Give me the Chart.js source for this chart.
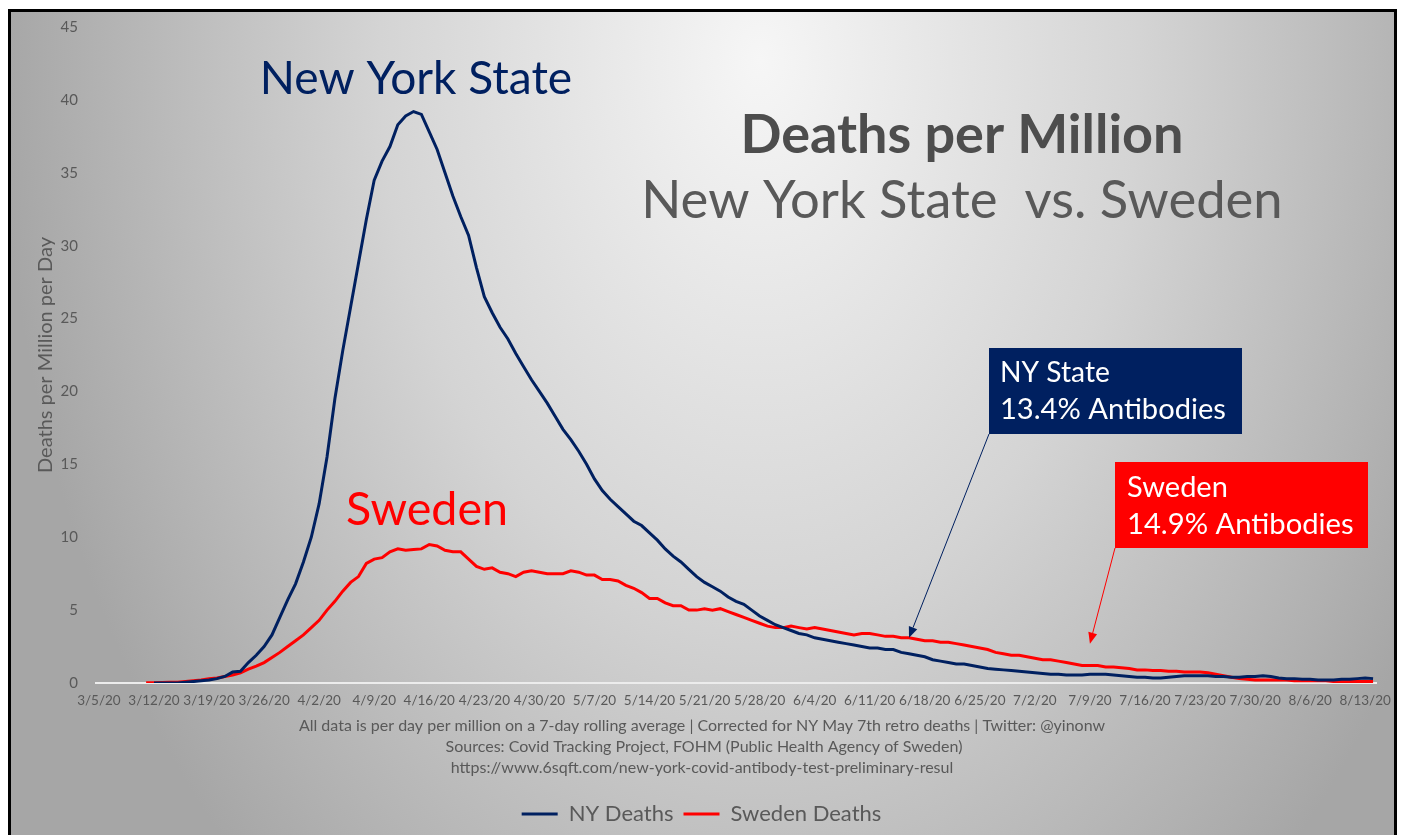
<!DOCTYPE html>
<html>
<head>
<meta charset="utf-8">
<script src="https://cdn.jsdelivr.net/npm/chart.js@4"></script>
<style>
  html, body { margin: 0; padding: 0; background: #fff; }
  #chart { display: block; }
</style>
</head>
<body>
<canvas id="chart" width="1403" height="835"></canvas>
<script>
// one label per day, 3/5/20 .. 8/14/20
const days = [
  '3/5/20','3/6/20','3/7/20','3/8/20','3/9/20','3/10/20','3/11/20','3/12/20','3/13/20','3/14/20','3/15/20','3/16/20','3/17/20','3/18/20',
  '3/19/20','3/20/20','3/21/20','3/22/20','3/23/20','3/24/20','3/25/20','3/26/20','3/27/20','3/28/20','3/29/20','3/30/20','3/31/20',
  '4/1/20','4/2/20','4/3/20','4/4/20','4/5/20','4/6/20','4/7/20','4/8/20','4/9/20','4/10/20','4/11/20','4/12/20','4/13/20','4/14/20','4/15/20',
  '4/16/20','4/17/20','4/18/20','4/19/20','4/20/20','4/21/20','4/22/20','4/23/20','4/24/20','4/25/20','4/26/20','4/27/20','4/28/20','4/29/20','4/30/20',
  '5/1/20','5/2/20','5/3/20','5/4/20','5/5/20','5/6/20','5/7/20','5/8/20','5/9/20','5/10/20','5/11/20','5/12/20','5/13/20','5/14/20','5/15/20','5/16/20',
  '5/17/20','5/18/20','5/19/20','5/20/20','5/21/20','5/22/20','5/23/20','5/24/20','5/25/20','5/26/20','5/27/20','5/28/20','5/29/20','5/30/20','5/31/20',
  '6/1/20','6/2/20','6/3/20','6/4/20','6/5/20','6/6/20','6/7/20','6/8/20','6/9/20','6/10/20','6/11/20','6/12/20','6/13/20','6/14/20','6/15/20',
  '6/16/20','6/17/20','6/18/20','6/19/20','6/20/20','6/21/20','6/22/20','6/23/20','6/24/20','6/25/20','6/26/20','6/27/20','6/28/20','6/29/20','6/30/20',
  '7/1/20','7/2/20','7/3/20','7/4/20','7/5/20','7/6/20','7/7/20','7/8/20','7/9/20','7/10/20','7/11/20','7/12/20','7/13/20','7/14/20','7/15/20','7/16/20',
  '7/17/20','7/18/20','7/19/20','7/20/20','7/21/20','7/22/20','7/23/20','7/24/20','7/25/20','7/26/20','7/27/20','7/28/20','7/29/20','7/30/20','7/31/20',
  '8/1/20','8/2/20','8/3/20','8/4/20','8/5/20','8/6/20','8/7/20','8/8/20','8/9/20','8/10/20','8/11/20','8/12/20','8/13/20','8/14/20'
];

// deaths per million per day, 7-day average
const nyDeaths = [
  null, null, null, null, null, null, null,
  0, 0, 0, 0, 0.05, 0.1, 0.15,
  0.2, 0.3, 0.45, 0.75, 0.8, 1.4, 1.9,
  2.5, 3.3, 4.5, 5.7, 6.8, 8.3, 10.0,
  12.3, 15.5, 19.5, 22.8, 25.8, 28.8, 31.8,
  34.5, 35.8, 36.8, 38.3, 38.9, 39.2, 39.0,
  37.8, 36.6, 35.0, 33.4, 32.0, 30.7, 28.5,
  26.5, 25.4, 24.4, 23.6, 22.6, 21.7, 20.8,
  20.0, 19.2, 18.3, 17.4, 16.7, 15.9, 15.0,
  14.0, 13.2, 12.6, 12.1, 11.6, 11.1, 10.8,
  10.3, 9.8, 9.2, 8.7, 8.3, 7.8, 7.3,
  6.9, 6.6, 6.3, 5.9, 5.6, 5.4, 5.0,
  4.6, 4.3, 4.0, 3.8, 3.6, 3.4, 3.3,
  3.1, 3.0, 2.9, 2.8, 2.7, 2.6, 2.5,
  2.4, 2.4, 2.3, 2.3, 2.1, 2.0, 1.9,
  1.8, 1.6, 1.5, 1.4, 1.3, 1.3, 1.2,
  1.1, 1.0, 0.95, 0.9, 0.85, 0.8, 0.75,
  0.7, 0.65, 0.6, 0.6, 0.55, 0.55, 0.55,
  0.6, 0.6, 0.6, 0.55, 0.5, 0.45, 0.4,
  0.4, 0.35, 0.35, 0.4, 0.45, 0.5, 0.5,
  0.5, 0.5, 0.45, 0.45, 0.4, 0.4, 0.45,
  0.45, 0.5, 0.45, 0.35, 0.3, 0.3, 0.25,
  0.25, 0.2, 0.2, 0.2, 0.25, 0.25, 0.3,
  0.35, 0.3
];
const swedenDeaths = [
  null, null, null, null, null, null, 0.02,
  0.02, 0.03, 0.05, 0.06, 0.1, 0.15, 0.2,
  0.3, 0.35, 0.45, 0.55, 0.7, 0.95, 1.15,
  1.4, 1.75, 2.1, 2.5, 2.9, 3.3, 3.8,
  4.3, 5.0, 5.6, 6.3, 6.9, 7.3, 8.2,
  8.5, 8.6, 9.0, 9.2, 9.1, 9.15, 9.2,
  9.5, 9.4, 9.1, 9.0, 9.0, 8.5, 8.0,
  7.8, 7.9, 7.6, 7.5, 7.3, 7.6, 7.7,
  7.6, 7.5, 7.5, 7.5, 7.7, 7.6, 7.4,
  7.4, 7.1, 7.1, 7.0, 6.7, 6.5, 6.2,
  5.8, 5.8, 5.5, 5.3, 5.3, 5.0, 5.0,
  5.1, 5.0, 5.1, 4.9, 4.7, 4.5, 4.3,
  4.1, 3.9, 3.8, 3.8, 3.9, 3.8, 3.7,
  3.8, 3.7, 3.6, 3.5, 3.4, 3.3, 3.4,
  3.4, 3.3, 3.2, 3.2, 3.1, 3.1, 3.0,
  2.9, 2.9, 2.8, 2.8, 2.7, 2.6, 2.5,
  2.4, 2.3, 2.1, 2.0, 1.9, 1.9, 1.8,
  1.7, 1.6, 1.6, 1.5, 1.4, 1.3, 1.2,
  1.2, 1.2, 1.1, 1.1, 1.05, 1.0, 0.9,
  0.9, 0.85, 0.85, 0.8, 0.8, 0.75, 0.75,
  0.75, 0.7, 0.6, 0.5, 0.4, 0.3, 0.25,
  0.2, 0.2, 0.2, 0.2, 0.2, 0.15, 0.15,
  0.15, 0.15, 0.15, 0.1, 0.1, 0.1, 0.1,
  0.1, 0.1
];
const yTicks = [0, 5, 10, 15, 20, 25, 30, 35, 40, 45];
const footnotes = [
  'All data is per day per million on a 7-day rolling average | Corrected for NY May 7th retro deaths | Twitter: @yinonw',
  'Sources: Covid Tracking Project, FOHM (Public Health Agency of Sweden)',
  'https://www.6sqft.com/new-york-covid-antibody-test-preliminary-resul'
];

const FONT = 'Lato, "Open Sans", sans-serif';
const GREY = '#595959';
const NAVY = '#002060';
const RED = '#ff0000';

// pick a font size so the text spans the given width
function fitFont(ctx, text, width, weight) {
  ctx.font = weight + ' 100px ' + FONT;
  const size = 100 * width / ctx.measureText(text).width;
  return weight + ' ' + size.toFixed(1) + 'px ' + FONT;
}
function put(ctx, text, x, y, width, color, weight, align) {
  ctx.font = fitFont(ctx, text, width, weight || 'normal');
  ctx.fillStyle = color;
  ctx.textAlign = align || 'left';
  ctx.textBaseline = 'alphabetic';
  ctx.fillText(text, x, y);
}
function arrow(ctx, x1, y1, x2, y2, color) {
  const a = Math.atan2(y2 - y1, x2 - x1);
  const len = 11, half = 4.5;
  const bx = x2 - len * Math.cos(a), by = y2 - len * Math.sin(a);
  ctx.strokeStyle = color;
  ctx.fillStyle = color;
  ctx.lineWidth = 1;
  ctx.beginPath();
  ctx.moveTo(x1, y1);
  ctx.lineTo(bx, by);
  ctx.stroke();
  ctx.beginPath();
  ctx.moveTo(x2, y2);
  ctx.lineTo(bx + half * Math.sin(a), by - half * Math.cos(a));
  ctx.lineTo(bx - half * Math.sin(a), by + half * Math.cos(a));
  ctx.closePath();
  ctx.fill();
}

const decor = {
  id: 'decor',
  beforeDraw(chart) {
    const ctx = chart.ctx;
    ctx.save();
    ctx.fillStyle = '#ffffff';
    ctx.fillRect(0, 0, chart.width, chart.height);
    // grey panel, lighter towards the top middle
    ctx.beginPath();
    ctx.rect(9, 10, 1386, 830);
    ctx.clip();
    const cx = 760, cy = 60, k = 1.45;
    ctx.translate(cx, cy);
    ctx.scale(1, k);
    const g = ctx.createRadialGradient(0, 0, 0, 0, 0, 760);
    g.addColorStop(0, '#f6f6f6');
    g.addColorStop(0.5, '#d4d4d4');
    g.addColorStop(1, '#a6a6a6');
    ctx.fillStyle = g;
    ctx.fillRect(-cx, -cy / k, chart.width, chart.height / k);
    ctx.restore();
    ctx.save();
    ctx.strokeStyle = '#000';
    ctx.lineWidth = 3;
    ctx.strokeRect(9.5, 10.5, 1386, 840);
    ctx.restore();
  },
  afterDatasetsDraw(chart) {
    const ctx = chart.ctx;
    const x = chart.scales.x, y = chart.scales.y;
    ctx.save();
    put(ctx, 'Deaths per Million', 962, 153, 443, '#4d4d4d', 'bold', 'center');
    put(ctx, 'New York State  vs. Sweden', 962, 218, 641, GREY, 'normal', 'center');
    put(ctx, 'New York State', 416, 94, 312, NAVY, 'normal', 'center');
    put(ctx, 'Sweden', 427, 525, 162, RED, 'normal', 'center');

    // callout boxes
    ctx.fillStyle = NAVY;
    ctx.fillRect(989, 348, 253, 86);
    put(ctx, 'NY State', 1000, 382, 110, '#ffffff');
    put(ctx, '13.4% Antibodies', 1000, 419, 226, '#ffffff');
    ctx.fillStyle = RED;
    ctx.fillRect(1115, 462, 253, 86);
    put(ctx, 'Sweden', 1127, 497, 101, '#ffffff');
    put(ctx, '14.9% Antibodies', 1127, 534, 227, '#ffffff');

    const tip = chart.getDatasetMeta(1).data[103];
    arrow(ctx, 989, 434, tip.x, tip.y, NAVY);
    arrow(ctx, 1115, 548, x.getPixelForValue(126), y.getPixelForValue(2.7), RED);

    // footnotes under the date axis, one common size
    ctx.font = '16px ' + FONT;
    ctx.fillStyle = GREY;
    ctx.textAlign = 'center';
    ctx.textBaseline = 'alphabetic';
    ctx.fillText(footnotes[0], 702, 731);
    ctx.fillText(footnotes[1], 704, 752);
    ctx.fillText(footnotes[2], 702, 773);
    ctx.restore();
  }
};

new Chart(document.getElementById('chart'), {
  type: 'line',
  data: {
    labels: days,
    datasets: [
      { label: 'NY Deaths', data: nyDeaths, borderColor: NAVY, backgroundColor: NAVY,
        borderWidth: 3, pointRadius: 0, tension: 0 },
      { label: 'Sweden Deaths', data: swedenDeaths, borderColor: RED, backgroundColor: RED,
        borderWidth: 3, pointRadius: 0, tension: 0 }
    ]
  },
  options: {
    responsive: false,
    animation: false,
    layout: { padding: { left: 26, right: 26, top: 27, bottom: 0 } },
    plugins: {
      legend: {
        position: 'bottom',
        labels: {
          usePointStyle: true, pointStyle: 'line', pointStyleWidth: 36,
          color: GREY, font: { family: FONT, size: 22 }, padding: 10
        }
      },
      tooltip: { enabled: false }
    },
    scales: {
      x: {
        offset: true,
        grid: { display: false, drawTicks: false },
        border: { display: false },
        ticks: {
          autoSkip: false, maxRotation: 0, minRotation: 0, padding: 10,
          color: GREY, font: { family: FONT, size: 13.5 },
          callback: (v, i) => (i % 7 === 0 ? days[i] : null)
        },
        afterFit: s => { s.height = 110; }
      },
      y: {
        min: 0, max: 45,
        afterBuildTicks: s => { s.ticks = yTicks.map(v => ({ value: v })); },
        ticks: { padding: 17, color: GREY, font: { family: FONT, size: 15 } },
        grid: {
          drawTicks: false,
          color: c => (c.tick && c.tick.value === 0 ? '#ececec' : 'rgba(0,0,0,0)'),
          lineWidth: 2
        },
        border: { display: false },
        title: {
          display: true, text: 'Deaths per Million per Day', color: GREY,
          font: { family: FONT, size: 20 }, padding: { top: 8, bottom: 0 }
        },
        afterFit: s => { s.width = 69; }
      }
    }
  },
  plugins: [decor]
});
</script>
</body>
</html>
